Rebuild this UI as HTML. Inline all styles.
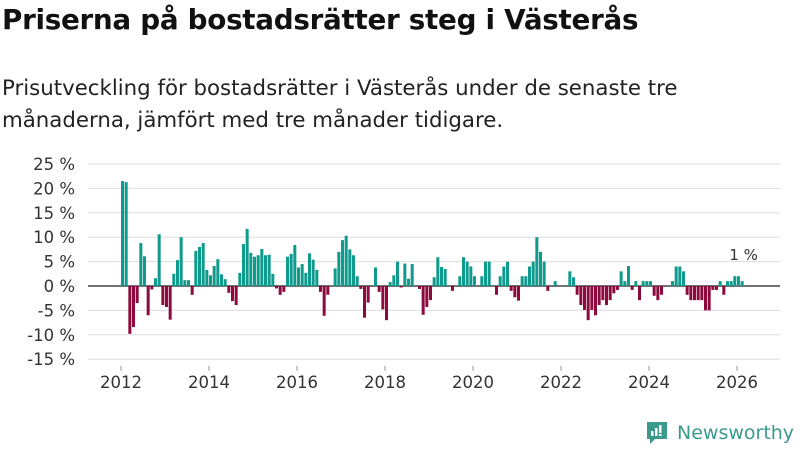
<!DOCTYPE html>
<html><head><meta charset="utf-8"><style>
body{margin:0;background:#fff;width:800px;height:450px;overflow:hidden;font-family:"Liberation Sans","DejaVu Sans",sans-serif;}
h1{position:absolute;left:2px;top:3px;margin:0;font-size:27.8px;font-weight:bold;color:#111;font-family:"DejaVu Sans",sans-serif;letter-spacing:-0.3px}
p{position:absolute;left:2px;top:73px;margin:0;font-size:21.3px;line-height:32px;color:#222;width:720px;font-family:"DejaVu Sans",sans-serif;}
</style></head><body>
<h1>Priserna på bostadsrätter steg i Västerås</h1>
<p>Prisutveckling för bostadsrätter i Västerås under de senaste tre månaderna, jämfört med tre månader tidigare.</p>
<svg id="chart" width="800" height="450" style="position:absolute;left:0;top:0" font-family="DejaVu Sans, sans-serif"></svg>
<div style="position:absolute;left:645px;top:420px;display:flex;align-items:center;color:#3a9a8c;font-size:19px;font-family:'DejaVu Sans',sans-serif">
<svg width="24" height="26"><path d="M2 2h20v17h-12l-5 5v-5h-3z" fill="#3a9a8c"/><rect x="6" y="11" width="2.5" height="5" fill="#fff"/><rect x="10" y="8" width="2.5" height="8" fill="#fff"/><rect x="14" y="5" width="2.5" height="8" fill="#fff"/><rect x="14" y="14" width="2.5" height="2" fill="#fff"/></svg>
<span style="margin-left:8px">Newsworthy</span></div>
<script>
const values=[21.5,21.3,-9.8,-8.4,-3.5,8.8,6.1,-6,-0.7,1.6,10.6,-3.9,-4.3,-6.9,2.5,5.3,10,1.2,1.2,-1.8,7.2,8,8.8,3.3,2.2,4.1,5.5,2.4,1.4,-1.4,-3.1,-3.9,2.7,8.6,11.7,6.8,6,6.3,7.6,6.3,
6.4,2.5,-0.5,-1.8,-1.2,6,6.6,8.4,3.8,4.5,2.7,6.7,5.4,3.3,-1.2,-6.1,-1.8,0,3.6,7,9.4,10.3,7.5,6.3,2,-0.6,-6.5,-3.4,0,3.8,-1.2,-4.8,-7,0.8,2.2,5,-0.3,4.6,1.5,4.5,0,-0.6,
-5.9,-4.3,-2.9,1.8,5.9,3.9,3.5,0,-1,0,2,5.9,5,4,2,0,2,5,5,0,-1.8,2,4,5,-1,-2.3,-3,2,2,4,5,10,7,5,-1,0,1,0,0,0,3,1.8,
-1.8,-3.9,-4.9,-7,-4.9,-6,-3.9,-2.9,-3.9,-2.9,-1.5,-0.8,3,1,4.1,-0.8,1,-2.9,1,1,1,-2,-2.9,-1.8,0,0,1,4,4,3,-1.8,-2.9,-2.9,-2.9,-2.9,-5,-5,-0.8,-0.8,1,-1.8,1,1,2,2,1];
const startYear=2012;
const yTicks=[25,20,15,10,5,0,-5,-10,-15];
const xTicks=[2012,2014,2016,2018,2020,2022,2024,2026];
const lastLabel="1 %";
const svg=document.getElementById('chart');
const NS='http://www.w3.org/2000/svg';
const xs=t=>121+(t-2012)*44;
const ys=v=>286-v*4.88;
function mk(tag,attrs){const e=document.createElementNS(NS,tag);for(const k in attrs)e.setAttribute(k,attrs[k]);svg.appendChild(e);return e;}
yTicks.forEach(v=>{
 const g=mk('line',{x1:88,x2:780,y1:ys(v),y2:ys(v),stroke:v===0?'#444':'#ddd','stroke-width':v===0?1.5:1});
 
 
 const t=mk('text',{x:75,y:ys(v)+6,'text-anchor':'end','font-size':16.5,fill:'#333'});
 t.textContent=v+' %';
 
 
});
xTicks.forEach(y=>{
 const l=mk('line',{x1:xs(y),x2:xs(y),y1:366,y2:371,stroke:'#999'});
 
 
 const t=mk('text',{x:xs(y),y:388,'text-anchor':'middle','font-size':16.5,fill:'#333'});
 t.textContent=y;
 
 
});
values.forEach((v,i)=>{
 const x=xs(startYear+i/12);
 const y0=ys(0),y1=ys(v);
 const r=mk('rect',{x:x,width:3,y:Math.min(y0,y1),height:Math.abs(y1-y0),fill:v>=0?'#0e9a8d':'#8c0a3e'});
 
 
});
const li=values.length-1;
const lt=mk('text',{x:xs(startYear+li/12)+3,y:ys(values[li])-21,'text-anchor':'middle','font-size':15,fill:'#333'});
lt.textContent=lastLabel;


</script>
</body></html>
